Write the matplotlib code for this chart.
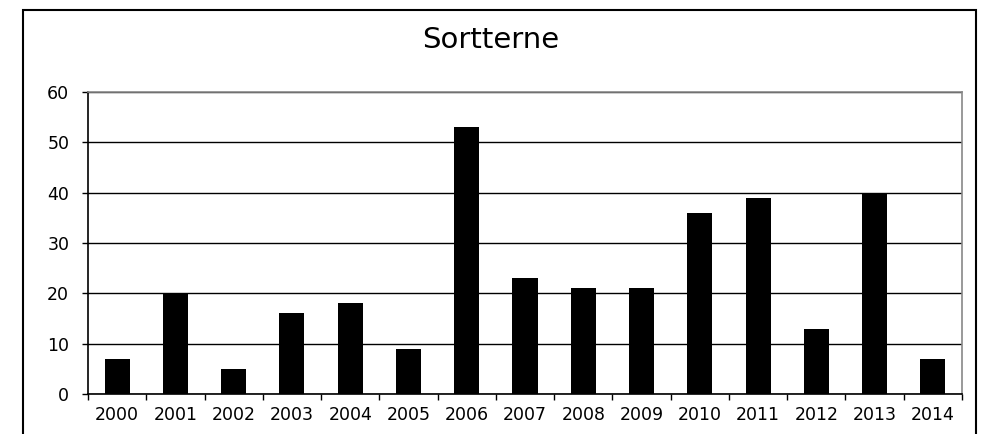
import matplotlib.pyplot as plt
from matplotlib.patches import Rectangle

years = ["2000", "2001", "2002", "2003", "2004", "2005", "2006", "2007",
         "2008", "2009", "2010", "2011", "2012", "2013", "2014"]
counts = [7, 20, 5, 16, 18, 9, 53, 23, 21, 21, 36, 39, 13, 40, 7]
y_ticks = [0, 10, 20, 30, 40, 50, 60]

plt.rcParams['font.family'] = ['DejaVu Sans']

fig = plt.figure(figsize=(9.82, 4.34), dpi=100)
W, H = 982, 434

# outer chart border (bottom edge runs off the picture)
fig.patches.append(Rectangle((23 / W, -0.05), (976 - 23) / W, 1.05 - 10 / H,
                             transform=fig.transFigure, fill=False,
                             edgecolor='black', linewidth=1.5))

ax = fig.add_axes([88 / W, 1 - 394 / H, (962 - 88) / W, (394 - 92) / H])

x = list(range(len(years)))
ax.bar(x, counts, width=0.43, color='black', zorder=3)

ax.set_xlim(-0.5, len(years) - 0.5)
ax.set_ylim(0, 60)
ax.set_yticks(y_ticks)
ax.set_yticklabels([str(v) for v in y_ticks], fontsize=12.5)
ax.set_xticks(x)
ax.set_xticklabels(years, fontsize=12.5)
ax.tick_params(axis='x', which='major', length=0, pad=8.5)
ax.set_xticks([i - 0.5 for i in range(len(years) + 1)], minor=True)
ax.tick_params(axis='x', which='minor', length=4, direction='out', width=1)
ax.tick_params(axis='y', length=4.5, direction='out', width=1, pad=9)

ax.grid(axis='y', color='black', linewidth=1, zorder=0)
for s in ['left', 'bottom']:
    ax.spines[s].set_color('black')
    ax.spines[s].set_linewidth(1.2)
for s in ['top', 'right']:
    ax.spines[s].set_color('#888888')
    ax.spines[s].set_linewidth(1.2)

fig.text(0.5, 1 - 48 / H, "Sortterne", ha='center', va='baseline', fontsize=21)

fig.savefig("out.png", dpi=100)
